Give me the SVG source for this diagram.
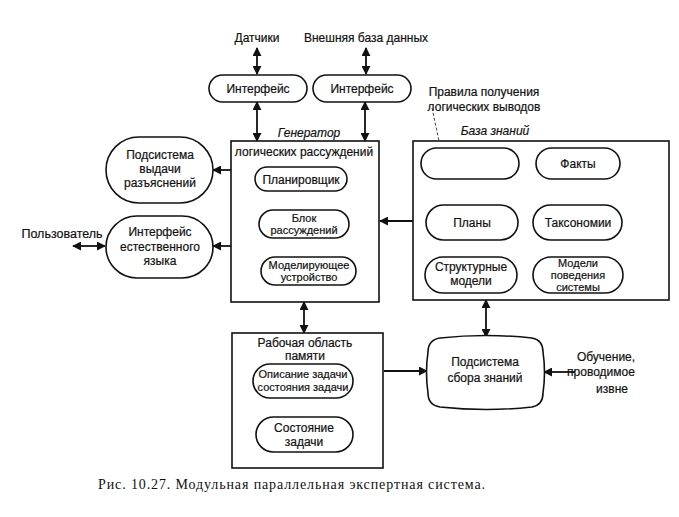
<svg xmlns="http://www.w3.org/2000/svg" width="679" height="517" viewBox="0 0 679 517">
<defs>
<marker id="ah" viewBox="0 0 10 10" refX="9" refY="5" markerWidth="9" markerHeight="9" markerUnits="userSpaceOnUse" orient="auto-start-reverse">
<path d="M0,0 L10,5 L0,10 Z" fill="#111"/>
</marker>
</defs>
<style>
.b{fill:#fff;stroke:#111;stroke-width:1.6}
.t{font-family:"Liberation Sans",Arial,sans-serif;font-size:12px;fill:#111;text-anchor:middle;stroke:#111;stroke-width:0.2}
.s{font-size:11px}
.i{font-style:italic}
.c{stroke:#111;stroke-width:1.8;fill:none}
.cap{font-family:"Liberation Serif","Times New Roman",serif;font-size:14px;fill:#111}
</style>
<rect width="679" height="517" fill="#fff"/>

<g id="connectors">
<line class="c" x1="257" y1="48" x2="257" y2="74" marker-start="url(#ah)" marker-end="url(#ah)"/>
<line class="c" x1="366" y1="48" x2="366" y2="74" marker-start="url(#ah)" marker-end="url(#ah)"/>
<line class="c" x1="257" y1="102" x2="257" y2="141" marker-start="url(#ah)" marker-end="url(#ah)"/>
<line class="c" x1="365" y1="102" x2="365" y2="141" marker-start="url(#ah)" marker-end="url(#ah)"/>
<line class="c" x1="231" y1="170" x2="213" y2="170" marker-end="url(#ah)"/>
<line class="c" x1="231" y1="246" x2="213" y2="246" marker-end="url(#ah)"/>
<line class="c" x1="73" y1="246" x2="105" y2="246" marker-start="url(#ah)" marker-end="url(#ah)"/>
<line class="c" x1="413" y1="221" x2="380" y2="221" marker-end="url(#ah)"/>
<line class="c" x1="304" y1="302" x2="304" y2="333" marker-start="url(#ah)" marker-end="url(#ah)"/>
<line class="c" x1="486" y1="300" x2="486" y2="337" marker-start="url(#ah)" marker-end="url(#ah)"/>
<line class="c" x1="384" y1="371" x2="427" y2="371" marker-end="url(#ah)"/>
<line class="c" x1="575" y1="372" x2="544" y2="372" marker-end="url(#ah)"/>
<line x1="432" y1="108" x2="442" y2="155" stroke="#111" stroke-width="0.8" stroke-dasharray="3,2"/>
</g>

<g id="labels-top">
<text class="t" x="257" y="42">Датчики</text>
<text class="t" x="366" y="42">Внешняя база данных</text>
</g>

<g id="iface1">
<rect class="b" x="209" y="75" width="98" height="27" rx="13.5"/>
<text class="t" x="258" y="93">Интерфейс</text>
</g>
<g id="iface2">
<rect class="b" x="313" y="75" width="98" height="27" rx="13.5"/>
<text class="t" x="362" y="93">Интерфейс</text>
</g>

<g id="generator">
<text class="t i" x="309" y="137">Генератор</text>
<rect class="b" x="231" y="141" width="148" height="161"/>
<text class="t" x="304" y="156">логических рассуждений</text>
<rect class="b" x="255" y="167" width="92" height="24" rx="12"/>
<text class="t" x="301" y="184">Планировщик</text>
<rect class="b" x="259" y="210" width="90" height="28" rx="14"/>
<text class="t s" x="304" y="222">Блок</text>
<text class="t s" x="304" y="234">рассуждений</text>
<rect class="b" x="261" y="257" width="95" height="28" rx="14"/>
<text class="t s" x="309" y="269">Моделирующее</text>
<text class="t s" x="309" y="281">устройство</text>
</g>

<g id="explain">
<rect class="b" x="106" y="137" width="107" height="66" rx="33"/>
<text class="t" x="160" y="159">Подсистема</text>
<text class="t" x="160" y="173">выдачи</text>
<text class="t" x="160" y="187">разъяснений</text>
</g>

<g id="nli">
<rect class="b" x="106" y="216" width="107" height="62" rx="31"/>
<text class="t" x="160" y="236">Интерфейс</text>
<text class="t" x="160" y="251">естественного</text>
<text class="t" x="160" y="265">языка</text>
</g>

<g id="user">
<text class="t" x="62" y="238" style="font-size:12.5px">Пользователь</text>
</g>

<g id="kb">
<text class="t" x="484" y="96">Правила получения</text>
<text class="t" x="484" y="111">логических выводов</text>
<text class="t i" x="495" y="135">База знаний</text>
<rect class="b" x="413" y="141" width="256" height="159"/>
<rect class="b" x="421" y="148" width="98" height="31" rx="15.5"/>
<rect class="b" x="536" y="148" width="84" height="31" rx="15.5"/>
<text class="t" x="578" y="168">Факты</text>
<rect class="b" x="426" y="205" width="92" height="35" rx="17.5"/>
<text class="t" x="472" y="227">Планы</text>
<rect class="b" x="533" y="205" width="89" height="35" rx="17.5"/>
<text class="t" x="578" y="227">Таксономии</text>
<rect class="b" x="425" y="257" width="92" height="36" rx="18"/>
<text class="t" x="471" y="271">Структурные</text>
<text class="t" x="471" y="285">модели</text>
<rect class="b" x="533" y="257" width="90" height="36" rx="18"/>
<text class="t s" x="578" y="267">Модели</text>
<text class="t s" x="578" y="279">поведения</text>
<text class="t s" x="578" y="291">системы</text>
</g>

<g id="workmem">
<rect class="b" x="232" y="333" width="151" height="135"/>
<text class="t" x="305" y="347">Рабочая область</text>
<text class="t" x="305" y="360">памяти</text>
<rect class="b" x="253" y="364" width="100" height="34" rx="17"/>
<text class="t s" x="303" y="378">Описание задачи</text>
<text class="t s" x="303" y="391">состояния задачи</text>
<rect class="b" x="256" y="417" width="97" height="35" rx="17.5"/>
<text class="t" x="304" y="432">Состояние</text>
<text class="t" x="304" y="446">задачи</text>
</g>

<g id="acquire">
<path class="b" d="M440,338 Q486,333 532,338 Q543,340 543,352 Q546,372 543,393 Q543,405 532,407 Q486,412 440,407 Q428,405 428,393 Q425,372 428,352 Q428,340 440,338 Z"/>
<text class="t" x="485" y="366">Подсистема</text>
<text class="t" x="485" y="382">сбора знаний</text>
</g>

<g id="learning">
<text class="t" x="606" y="361">Обучение,</text>
<text class="t" x="601" y="376">проводимое</text>
<text class="t" x="612" y="393">извне</text>
</g>

<text class="cap" x="98" y="489" textLength="387" lengthAdjust="spacing">Рис. 10.27. Модульная параллельная экспертная система.</text>
</svg>
